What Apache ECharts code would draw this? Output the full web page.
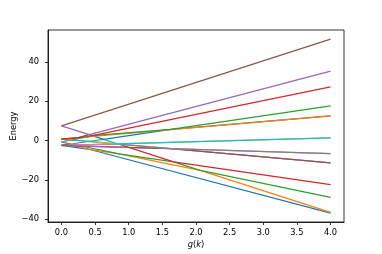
<!DOCTYPE html>
<html><head><meta charset="utf-8">
<script src="https://cdn.jsdelivr.net/npm/echarts@6/dist/echarts.min.js"></script>
<style>html,body{margin:0;padding:0;background:#fff}#c{width:382px;height:254px}</style>
</head><body><div id="c"></div>
<script>
// tick labels
const xTicks = [0, 0.5, 1, 1.5, 2, 2.5, 3, 3.5, 4];
const yTicks = [-40, -20, 0, 20, 40];
// energy levels (sorted eigenvalues) as [g, E] points
const level0  = [[0,-2.5],[0.4375,-4.69],[4,-37.0]];
const level1  = [[0,-2.5],[0.219,-2.72],[0.4375,-4.69],[0.875,-6.88],[2.0625,-15.19],[4,-36.6]];
const level2  = [[0,-2.5],[0.292,-2.79],[0.875,-6.88],[1.667,-10.83],[2.0625,-15.19],[4,-28.9]];
const level3  = [[0,-2.5],[0.175,-2.33],[0.219,-2.72],[1.0,-3.5],[1.667,-10.83],[4,-22.5]];
const level4  = [[0,-2.5],[0.219,-2.28],[0.292,-2.79],[1.625,-4.13],[4,-11.4]];
const level5  = [[0,-2.5],[0.125,-1.88],[0.175,-2.33],[0.8125,-1.69],[0.844,-1.78],[1.0,-3.5],[1.625,-4.13],[4,-11.4]];
const level6  = [[0,-0.75],[0.125,-1.88],[0.146,-1.77],[0.219,-2.28],[0.8125,-1.69],[1.625,-4.13],[4,-6.7]];
const level7  = [[0,-0.75],[0.146,-1.77],[0.406,-0.47],[0.8125,-1.69],[0.833,-1.67],[0.844,-1.78],[1.625,-4.13],[4,-6.7]];
const level8  = [[0,-0.75],[0.15,0.3],[0.8125,-1.69],[4,1.4]];
const level9  = [[0,-0.75],[0.125,0.38],[0.406,-0.47],[0.625,0.63],[0.833,-1.67],[4,1.4]];
const level10 = [[0,0.75],[0.15,0.3],[0.375,1.88],[0.482,2.2],[0.625,0.63],[1.625,5.63],[4,12.6]];
const level11 = [[0,0.75],[0.125,0.38],[0.25,1.5],[4,12.6]];
const level12 = [[0,0.75],[0.375,1.88],[0.458,2.46],[0.482,2.2],[1.625,5.63],[4,17.7]];
const level13 = [[0,0.75],[0.25,1.5],[0.4125,2.96],[0.458,2.46],[4,27.3]];
const level14 = [[0,7.5],[0.4125,2.96],[4,35.3]];
const level15 = [[0,7.5],[4,51.7]];

const levels = [level0,level1,level2,level3,level4,level5,level6,level7,level8,level9,level10,level11,level12,level13,level14,level15];
const palette = ['#1f77b4','#ff7f0e','#2ca02c','#d62728','#9467bd','#8c564b','#e377c2','#7f7f7f','#bcbd22','#17becf'];

const FONT = 'DejaVu Sans';
const chart = echarts.init(document.getElementById('c'), null, {renderer: 'canvas'});
chart.setOption({
  animation: false,
  grid: {left: 48, top: 30, width: 296, height: 192, containLabel: false, outerBoundsMode: 'none',
         show: true, borderColor: '#000', borderWidth: 0.8, backgroundColor: 'transparent'},
  xAxis: {
    type: 'value', min: -0.2, max: 4.2,
    axisLine: {show: true, onZero: false, lineStyle: {color: '#000', width: 0.8}},
    axisTick: {show: true, customValues: xTicks, length: 3, lineStyle: {color: '#000', width: 0.8}},
    axisLabel: {customValues: xTicks, formatter: v => Number(v).toFixed(1), color: '#000', fontSize: 8.3, fontFamily: FONT, margin: 7},
    splitLine: {show: false},
    name: '{i|g}({i|k})', nameLocation: 'middle', nameGap: 19, nameMoveOverlap: false,
    nameTextStyle: {color: '#000', fontSize: 8.3, fontFamily: FONT,
      rich: {i: {fontStyle: 'italic', fontSize: 8.3, fontFamily: FONT, color: '#000'}}}
  },
  yAxis: {
    type: 'value', min: -41.5, max: 56.3,
    axisLine: {show: true, onZero: false, lineStyle: {color: '#000', width: 0.8}},
    axisTick: {show: true, customValues: yTicks, length: 3, lineStyle: {color: '#000', width: 0.8}},
    axisLabel: {customValues: yTicks, formatter: v => (v < 0 ? '\u2212' : '') + Math.abs(v), color: '#000', fontSize: 8.3, fontFamily: FONT, margin: 9},
    splitLine: {show: false},
    name: 'Energy', nameLocation: 'middle', nameGap: 30, nameRotate: 90, nameMoveOverlap: false,
    nameTextStyle: {color: '#000', fontSize: 8.3, fontFamily: FONT}
  },
  series: levels.map((d, i) => ({
    type: 'line', data: d, symbol: 'none', showSymbol: false, clip: true,
    lineStyle: {width: 1.25, color: palette[i % palette.length]},
    itemStyle: {color: palette[i % palette.length]}
  }))
});
</script>
</body></html>
